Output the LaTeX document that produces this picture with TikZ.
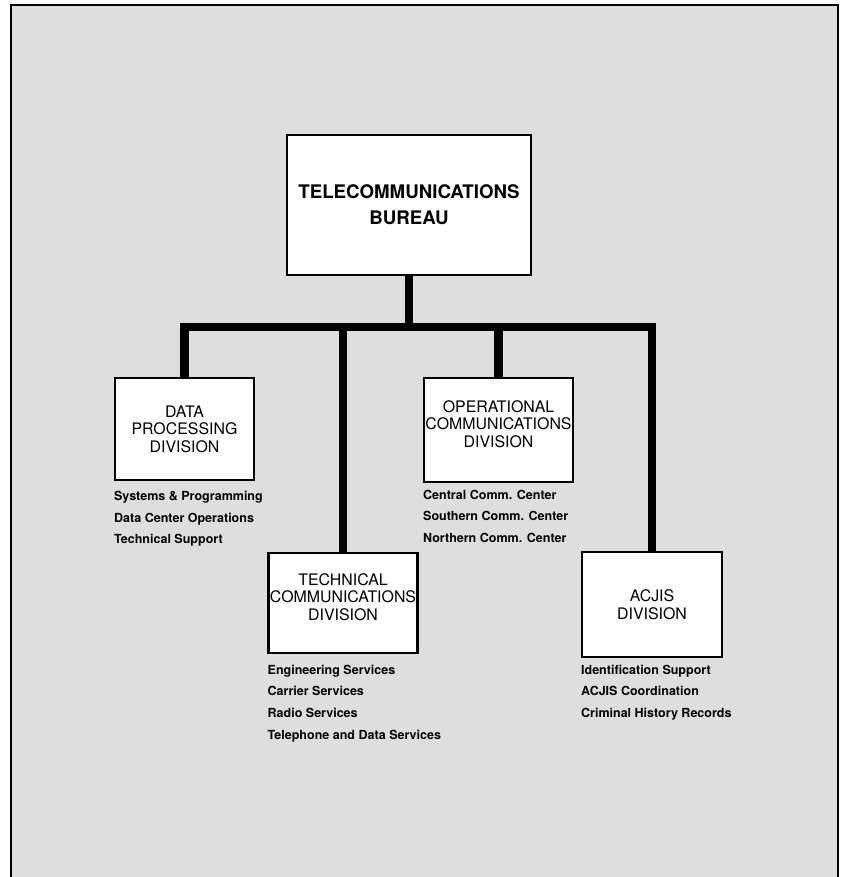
\documentclass[tikz,border=0pt]{standalone}
\usepackage{fontspec}
\setmainfont{TeX Gyre Heros}
\usetikzlibrary{positioning}
\definecolor{Speckle}{RGB}{222,222,222}

\begin{document}
\begin{tikzpicture}[
            x=0.025cm, y=-0.025cm,
            bureaubox/.style={
                draw=black,
                fill=white,
                line width=1.6pt,
                align=center,
                minimum width=6.1cm,
                minimum height=3.5cm,
                font=\bfseries\fontsize{13.3}{18.4}\selectfont
            },
            divbox/.style={
                draw=black,
                fill=white,
                line width=1.6pt,
                align=center,
                inner sep=1pt,
                minimum width=3.5cm,
                minimum height=2.55cm,
                font=\fontsize{11.3}{12.4}\selectfont
            },
            duties/.style={
                align=left,
                inner sep=0pt,
                anchor=north west,
                font=\bfseries\fontsize{8.9}{15.4}\selectfont
            },
            trunk/.style={line width=5.7pt}
        ]
            \useasboundingbox (0,0) rectangle (844,877);
            % page frame
            \fill[Speckle] (11,5) rectangle (838,877);
            \draw[line width=1.8pt] (11,877) -- (11,5) -- (838,5) -- (838,877);

            \node[bureaubox] (bureau) at (409,205) {TELECOMMUNICATIONS\\BUREAU};
            \node[divbox, minimum width=3.475cm] (dp) at (184.5,429) {DATA\\PROCESSING\\DIVISION};
            \node[divbox, minimum width=3.625cm, minimum height=2.6cm] (ops) at (498.5,430) {OPERATIONAL\\COMMUNICATIONS\\DIVISION\\[-3.5pt]};
            \node[divbox, minimum width=3.55cm, minimum height=2.5cm] (tech) at (343,603) {TECHNICAL\\COMMUNICATIONS\\DIVISION\\[-3.5pt]};
            \node[divbox, minimum height=2.625cm] (acjis) at (652,604.5) {ACJIS\\DIVISION};

            \coordinate (bar) at (409,327);

            \draw[trunk] (bureau.south) -- (bureau.south |- bar);
            \draw[trunk] (dp.north) -- (dp.north |- bar) -- (acjis.north |- bar) -- (acjis.north);
            \draw[trunk] (tech.north |- bar) -- (tech.north);
            \draw[trunk] (ops.north |- bar) -- (ops.north);

            \node[duties, below=7pt of dp.south west, anchor=north west] (dplist)
                {Systems \& Programming\\Data Center Operations\\Technical Support};
            \node[duties, below=4.5pt of ops.south west, anchor=north west] (opslist)
                {Central Comm. Center\\Southern Comm. Center\\Northern Comm. Center};
            \node[duties, below=7.5pt of tech.south west, anchor=north west] (techlist)
                {Engineering Services\\Carrier Services\\Radio Services\\Telephone and Data Services};
            \node[duties, below=4.5pt of acjis.south west, anchor=north west] (acjislist)
                {Identification Support\\ACJIS Coordination\\Criminal History Records};
        \end{tikzpicture}
\end{document}
